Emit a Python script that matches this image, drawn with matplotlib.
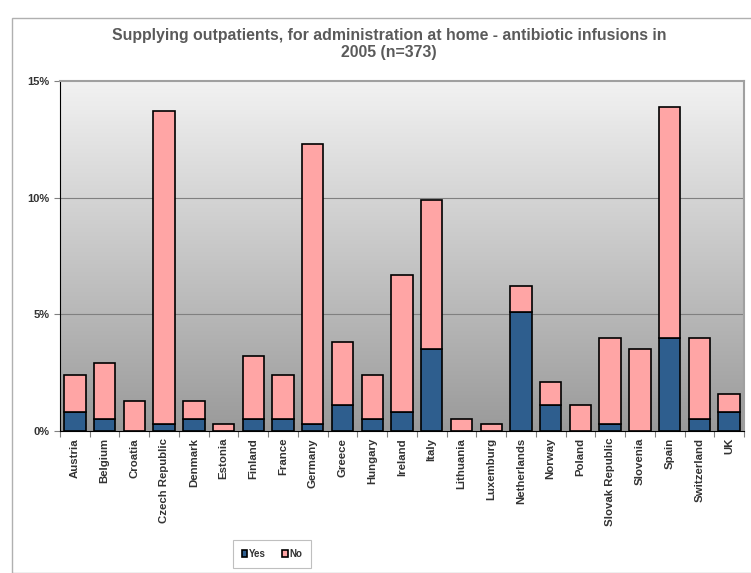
import numpy as np
import matplotlib.pyplot as plt
from matplotlib.colors import LinearSegmentedColormap
from matplotlib.patches import Rectangle

plt.rcParams['font.family'] = ['Liberation Sans', 'DejaVu Sans']

countries = ['Austria', 'Belgium', 'Croatia', 'Czech Republic', 'Denmark', 'Estonia',
             'Finland', 'France', 'Germany', 'Greece', 'Hungary', 'Ireland', 'Italy',
             'Lithuania', 'Luxemburg', 'Netherlands', 'Norway', 'Poland',
             'Slovak Republic', 'Slovenia', 'Spain', 'Switzerland', 'UK']
yes = [0.8, 0.5, 0.0, 0.3, 0.5, 0.0, 0.5, 0.5, 0.3, 1.1, 0.5, 0.8, 3.5,
       0.0, 0.0, 5.1, 1.1, 0.0, 0.3, 0.0, 4.0, 0.5, 0.8]
total = [2.4, 2.9, 1.3, 13.7, 1.3, 0.3, 3.2, 2.4, 12.3, 3.8, 2.4, 6.7, 9.9,
         0.5, 0.3, 6.2, 2.1, 1.1, 4.0, 3.5, 13.9, 4.0, 1.6]
no = [t - y for t, y in zip(total, yes)]

fig = plt.figure(figsize=(7.51, 5.73), dpi=100)
ax = fig.add_axes([60/751, 1-431/573, 684/751, 350/573])

# outer chart frame (right side runs off the picture)
fig.patches.append(Rectangle((12/751, 0), 745/751, 1-18/573, transform=fig.transFigure,
                             fill=False, edgecolor='#b0b0b0', lw=1))

# gradient background, light on top
grad = np.linspace(0, 1, 256).reshape(-1, 1)
cmap = LinearSegmentedColormap.from_list('g', ['#f2f2f2', '#9a9a9a'])
ax.imshow(grad, cmap=cmap, aspect='auto', extent=(-0.5, 22.5, 0, 15),
          zorder=0, origin='upper')
ax.set_ylim(0, 15)
ax.set_xlim(-0.5, len(countries) - 0.5)

for yv in [5, 10]:
    ax.axhline(yv, color='#808080', lw=0.8, zorder=1)

x = np.arange(len(countries))
ax.bar(x, yes, width=0.72, color='#2e5e8e', edgecolor='black', lw=1.2, zorder=2, label='Yes')
ax.bar(x, no, bottom=yes, width=0.72, color='#ffa5a5', edgecolor='black', lw=1.2, zorder=2, label='No')

ax.set_yticks([0, 5, 10, 15])
ax.set_yticklabels(['0%', '5%', '10%', '15%'], fontsize=8, fontweight='bold', color='#333333')
ax.set_xticks(np.arange(-0.5, len(countries), 1), minor=False)
ax.set_xticklabels([])
ax.set_xticks(x, minor=True)
ax.set_xticklabels(countries, minor=True, rotation=90, fontsize=8.2, fontweight='bold', color='#333333')
ax.tick_params(axis='x', which='minor', length=0, pad=5)
ax.tick_params(axis='x', which='major', length=4, color='#808080')
ax.tick_params(axis='y', length=4, color='#808080')

ax.spines['top'].set_color('#a0a0a0')
ax.spines['right'].set_color('#a0a0a0')
ax.spines['top'].set_linewidth(1.5)
ax.spines['right'].set_linewidth(1.5)
ax.spines['left'].set_color('black')
ax.spines['bottom'].set_color('black')

fig.text(389/751, 1-44/573, 'Supplying outpatients, for administration at home - antibiotic infusions in\n2005 (n=373)',
         ha='center', va='center', fontsize=11.4, fontweight='bold', color='#5a5a5a', linespacing=1.2)

leg = fig.legend(loc='center', bbox_to_anchor=(272/751, 1-554/573), ncol=2,
                 prop={'weight': 'bold', 'size': 7}, handlelength=0.6, handleheight=0.6,
                 handletextpad=0.2, columnspacing=1.6, frameon=True, fancybox=False,
                 borderpad=0.9)
leg.get_frame().set_edgecolor('#b0b0b0')
leg.get_frame().set_linewidth(0.8)
for t in leg.get_texts():
    t.set_color('#333333')

fig.savefig('out.png', dpi=100)
